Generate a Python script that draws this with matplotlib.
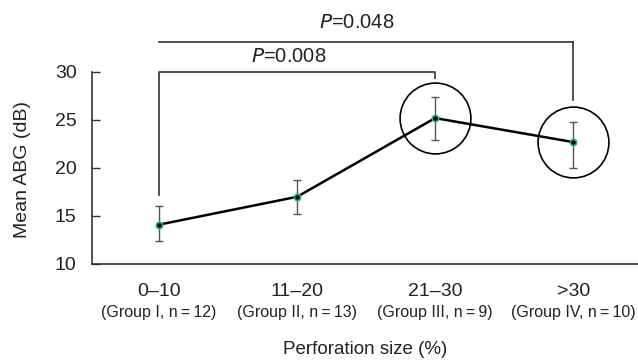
import matplotlib.pyplot as plt
import matplotlib.transforms as mtransforms

plt.rcParams['font.family'] = ['Liberation Sans', 'DejaVu Sans']
plt.rcParams['text.color'] = '#222222'
plt.rcParams['ytick.labelcolor'] = '#222222'

sizes = ['0\u201310', '11\u201320', '21\u201330', '>30']
groups = ['(Group I, n\u2009=\u200912)', '(Group II, n\u2009=\u200913)',
          '(Group III, n\u2009=\u20099)', '(Group IV, n\u2009=\u200910)']
mean_abg = [14.1, 17.0, 25.2, 22.7]
err_low = [12.4, 15.2, 22.9, 20.0]
err_high = [16.0, 18.8, 27.4, 24.8]
circled = [2, 3]
pvals = ['0.008', '0.048']

x = list(range(len(sizes)))
yerr = [[m - lo for m, lo in zip(mean_abg, err_low)],
        [hi - m for m, hi in zip(mean_abg, err_high)]]

fig = plt.figure(figsize=(6.38, 3.6), dpi=100)
ax = fig.add_axes([0.1442, 0.2667, 0.8558, 0.5333])

ax.errorbar(x, mean_abg, yerr=yerr, fmt='none', ecolor='#555555',
            elinewidth=1.0, capsize=3, capthick=1.0, zorder=2)
ax.plot(x, mean_abg, color='black', lw=1.8, zorder=3)
ax.plot(x, mean_abg, 'o', ms=4.5, mfc='black', mec='#1fb58a', mew=1.2, zorder=4)

for i in circled:
    ax.plot(x[i], mean_abg[i], 'o', ms=51, mfc='none', mec='black', mew=1.2,
            zorder=5, clip_on=False)

ax.set_xlim(-0.486, 3.47)
ax.set_ylim(10, 30)
ax.set_yticks([10, 15, 20, 25, 30])
ax.tick_params(axis='y', direction='in', length=6, width=1, labelsize=14,
               color='#333333', pad=11)
ax.set_xticks([])
for s in ['top', 'right']:
    ax.spines[s].set_visible(False)
for s in ['left', 'bottom']:
    ax.spines[s].set_color('#333333')
    ax.spines[s].set_linewidth(1.2)

trans = mtransforms.blended_transform_factory(ax.transData, fig.transFigure)
for xi, s, g in zip(x, sizes, groups):
    ax.text(xi, 1 - 292 / 360, s, transform=trans, ha='center', va='center',
            fontsize=14)
    ax.text(xi, 1 - 313 / 360, g, transform=trans, ha='center', va='center',
            fontsize=11.5)

fig.text(0.572, 1 - 349 / 360, 'Perforation size (%)', ha='center', va='center',
         fontsize=13.5)
fig.text(0.035, 0.528, 'Mean ABG (dB)', rotation=90, ha='center', va='center',
         fontsize=14)

# significance brackets
bk = dict(color='#333333', lw=1.2, clip_on=False)
ax.plot([x[0], x[0], x[2], x[2]], [17.2, 30.0, 30.0, 29.4], **bk)
ax.plot([x[0], x[3]], [33.1, 33.1], **bk)
ax.plot([x[3], x[3]], [33.1, 27.1], **bk)
ax.text(0.94, 31.6, '$\\it{P}$=' + pvals[0], ha='center', va='center',
        fontsize=14.5, clip_on=False)
ax.text(1.43, 35.2, '$\\it{P}$=' + pvals[1], ha='center', va='center',
        fontsize=14.5, clip_on=False)

fig.savefig('out.png', dpi=100)
